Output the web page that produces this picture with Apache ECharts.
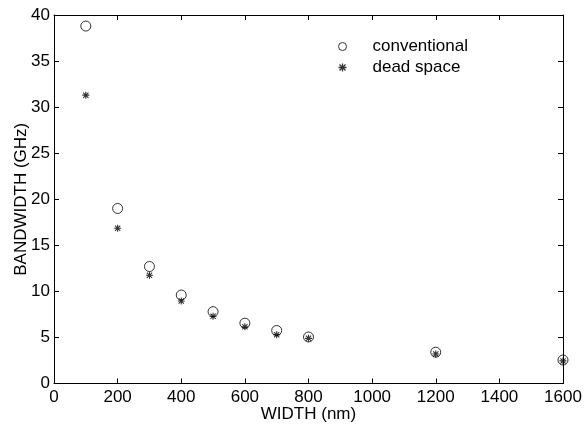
<!DOCTYPE html>
<html>
<head>
<meta charset="utf-8">
<script src="https://cdn.jsdelivr.net/npm/echarts@6/dist/echarts.min.js"></script>
<style>
html,body{margin:0;padding:0;background:#fff;}
#chart{width:585px;height:428px;}
</style>
</head>
<body>
<div id="chart"></div>
<script>
const widths = [100, 200, 300, 400, 500, 600, 700, 800, 1200, 1600];
const conventional = [38.8, 19.0, 12.7, 9.6, 7.8, 6.55, 5.75, 5.05, 3.4, 2.55];
const deadSpace = [31.3, 16.85, 11.75, 8.95, 7.3, 6.15, 5.3, 4.9, 3.2, 2.45];
const xTicks = [0, 200, 400, 600, 800, 1000, 1200, 1400, 1600];
const yTicks = [0, 5, 10, 15, 20, 25, 30, 35, 40];

const starPath = 'path://M-5,-0.8L5,-0.8L5,0.8L-5,0.8Z M-0.8,-5L0.8,-5L0.8,5L-0.8,5Z M-3.2,-4.3L4.3,3.2L3.2,4.3L-4.3,-3.2Z M3.2,-4.3L4.3,-3.2L-3.2,4.3L-4.3,3.2Z';
const font = 'Liberation Sans, Arial, sans-serif';
const fs = 17;
const axisCommon = {
  axisLine: {show: true, onZero: false, lineStyle: {color: '#000', width: 1}},
  axisTick: {show: true, inside: true, length: 5, lineStyle: {color: '#000'}},
  splitLine: {show: false}
};
const chart = echarts.init(document.getElementById('chart'));
chart.setOption({
  animation: false,
  backgroundColor: '#fff',
  textStyle: {fontFamily: font},
  grid: {left: 54, right: 22, top: 15, bottom: 44.5, containLabel: false, outerBoundsMode: 'none'},
  legend: {
    orient: 'vertical', left: 333, top: 33, itemWidth: 30, itemHeight: 8, itemGap: 4,
    itemStyle: {borderWidth: 1},
    textStyle: {fontSize: fs, color: '#000', fontFamily: font, lineHeight: 17, padding: [0, 0, 0, 10]},
    data: ['conventional', 'dead space']
  },
  xAxis: [
    Object.assign({type: 'value', min: 0, max: 1600, interval: 200, position: 'bottom',
      name: 'WIDTH (nm)', nameLocation: 'middle', nameGap: 22, nameMoveOverlap: false,
      nameTextStyle: {fontSize: fs, color: '#000', fontFamily: font},
      axisLabel: {fontSize: fs, color: '#000', margin: 5, fontFamily: font,
        formatter: v => xTicks.includes(v) ? String(v) : ''}}, axisCommon),
    Object.assign({type: 'value', min: 0, max: 1600, interval: 200, position: 'top',
      axisLabel: {show: false}}, axisCommon)
  ],
  yAxis: [
    Object.assign({type: 'value', min: 0, max: 40, interval: 5, position: 'left',
      name: 'BANDWIDTH (GHz)', nameLocation: 'middle', nameGap: 24, nameRotate: 90, nameMoveOverlap: false,
      nameTextStyle: {fontSize: fs, color: '#000', fontFamily: font},
      axisLabel: {fontSize: fs, color: '#000', margin: 4, fontFamily: font,
        formatter: v => yTicks.includes(v) ? String(v) : ''}}, axisCommon),
    Object.assign({type: 'value', min: 0, max: 40, interval: 5, position: 'right',
      axisLabel: {show: false}}, axisCommon)
  ],
  series: [
    {name: 'conventional', type: 'scatter', symbol: 'circle', symbolSize: 10,
      itemStyle: {color: 'rgba(255,255,255,0)', borderColor: '#000', borderWidth: 1},
      data: widths.map((w, i) => [w, conventional[i]])},
    {name: 'dead space', type: 'scatter', symbol: starPath, symbolSize: 7,
      itemStyle: {color: '#000'},
      data: widths.map((w, i) => [w, deadSpace[i]])}
  ]
});
</script>
</body>
</html>
